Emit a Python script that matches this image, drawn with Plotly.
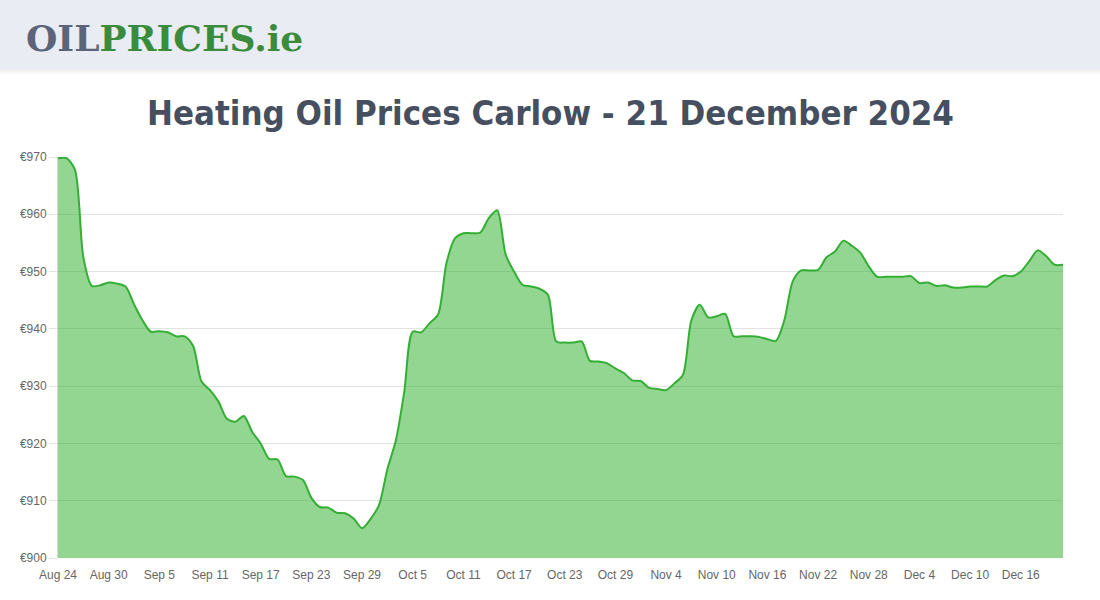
import pandas as pd
import plotly.graph_objects as go

# ---- data ----
start_date = "2024-08-24"
prices = [
    969.8, 969.8, 967.8, 952.5, 947.5, 947.6, 948.1, 947.9, 947.4, 944.3,
    941.5, 939.5, 939.6, 939.4, 938.7, 938.7, 937.0, 930.8, 929.3, 927.3,
    924.3, 923.8, 924.8, 922.0, 920.0, 917.3, 917.2, 914.3, 914.2, 913.6,
    910.5, 908.9, 908.8, 907.9, 907.8, 906.9, 905.2, 906.8, 909.2, 915.5,
    920.5, 929.0, 939.5, 939.4, 941.0, 942.5, 951.5, 955.8, 956.7, 956.7,
    956.8, 959.3, 960.7, 953.0, 950.0, 947.7, 947.4, 947.0, 946.0, 937.8,
    937.6, 937.6, 937.8, 934.4, 934.3, 934.0, 933.1, 932.3, 931.0, 930.9,
    929.7, 929.5, 929.3, 930.5, 932.0, 941.5, 944.2, 942.0, 942.2, 942.6,
    938.7, 938.7, 938.7, 938.6, 938.2, 937.9, 941.5, 948.3, 950.2, 950.2,
    950.3, 952.5, 953.5, 955.4, 954.5, 953.3, 950.9, 949.1, 949.1, 949.1,
    949.1, 949.2, 948.0, 948.1, 947.5, 947.6, 947.2, 947.2, 947.4, 947.4,
    947.4, 948.5, 949.3, 949.2, 950.0, 951.8, 953.7, 952.7, 951.2, 951.2,
]
dates = pd.date_range(start_date, periods=len(prices), freq="D")

x_tick_vals = ["2024-08-24", "2024-08-30", "2024-09-05", "2024-09-11", "2024-09-17",
               "2024-09-23", "2024-09-29", "2024-10-05", "2024-10-11", "2024-10-17",
               "2024-10-23", "2024-10-29", "2024-11-04", "2024-11-10", "2024-11-16",
               "2024-11-22", "2024-11-28", "2024-12-04", "2024-12-10", "2024-12-16"]
x_tick_text = ["Aug 24", "Aug 30", "Sep 5", "Sep 11", "Sep 17", "Sep 23", "Sep 29",
               "Oct 5", "Oct 11", "Oct 17", "Oct 23", "Oct 29", "Nov 4", "Nov 10",
               "Nov 16", "Nov 22", "Nov 28", "Dec 4", "Dec 10", "Dec 16"]
y_tick_vals = [900, 910, 920, 930, 940, 950, 960, 970]
y_tick_text = ["€900", "€910", "€920", "€930", "€940", "€950", "€960", "€970"]

title_text = "Heating Oil Prices Carlow - 21 December 2024"

# ---- figure ----
W, H = 1100, 600
L, R, T, B = 58, 37, 157, 42
pw, ph = W - L - R, H - T - B


def px_x(x):
    return (x - L) / pw


def px_y(y):
    return (H - B - y) / ph


fig = go.Figure()
fig.add_trace(go.Scatter(
    x=dates, y=prices, mode="lines",
    line=dict(color="rgb(52,174,52)", width=2, shape="spline", smoothing=0.8),
    fill="tozeroy", fillcolor="rgba(37,173,37,0.5)",
    hoverinfo="skip", showlegend=False,
))

shapes = [
    # header band
    dict(type="rect", xref="paper", yref="paper", layer="below",
         x0=px_x(0), x1=px_x(W), y0=px_y(70), y1=px_y(0),
         fillcolor="#e9ecf3", line=dict(width=0)),
]
# soft shadow under header
for i, a in enumerate([0.06, 0.045, 0.03, 0.018, 0.008]):
    shapes.append(dict(type="rect", xref="paper", yref="paper", layer="below",
                       x0=px_x(0), x1=px_x(W), y0=px_y(71 + i), y1=px_y(70 + i),
                       fillcolor=f"rgba(0,0,0,{a})", line=dict(width=0)))

fig.update_layout(
    width=W, height=H,
    margin=dict(l=L, r=R, t=T, b=B),
    paper_bgcolor="white", plot_bgcolor="white",
    shapes=shapes,
    annotations=[
        dict(xref="paper", yref="paper", x=px_x(24), y=px_y(38),
             xanchor="left", yanchor="middle", showarrow=False,
             text='<span style="color:#5b6478">OIL</span><span style="color:#3a8c3c">PRICES.ie</span>',
             font=dict(family="DejaVu Serif", size=36, weight="bold")),
        dict(xref="paper", yref="paper", x=px_x(550), y=px_y(113),
             xanchor="center", yanchor="middle", showarrow=False,
             text=title_text,
             font=dict(family="DejaVu Sans Condensed, Roboto Condensed, Roboto, sans-serif",
                       size=34.5, color="#464f5f", weight="bold")),
    ],
    xaxis=dict(
        range=[dates[0], dates[-1]], type="date",
        tickvals=x_tick_vals, ticktext=x_tick_text,
        showgrid=False, zeroline=False, showline=False,
        ticks="outside", ticklen=6, tickcolor="rgba(0,0,0,0)",
        tickfont=dict(family="Liberation Sans", size=12, color="#666666"),
    ),
    yaxis=dict(
        range=[900, 970], tickvals=y_tick_vals, ticktext=y_tick_text,
        showgrid=True, gridcolor="#e2e2e2", gridwidth=1, zeroline=False,
        showline=True, linecolor="#d6d6d6", linewidth=1,
        ticks="outside", ticklen=8, tickcolor="#e2e2e2",
        tickfont=dict(family="Liberation Sans", size=12, color="#666666"),
    ),
)

fig.write_html("out.html", config={"displayModeBar": False},
               post_script="document.body.style.margin='0';")
